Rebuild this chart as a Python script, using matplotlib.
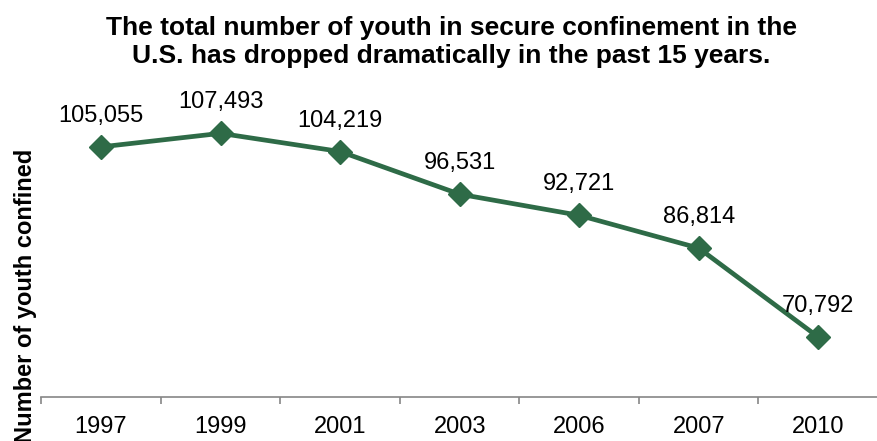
import matplotlib.pyplot as plt
from matplotlib.ticker import FixedLocator, NullFormatter

plt.rcParams['font.family'] = ['Liberation Sans', 'DejaVu Sans']

years = ['1997', '1999', '2001', '2003', '2006', '2007', '2010']
confined = [105055, 107493, 104219, 96531, 92721, 86814, 70792]

fig = plt.figure(figsize=(8.78, 4.41), dpi=100)
ax = fig.add_axes([0.047, 0.10, 0.953, 0.755])

x = list(range(len(years)))
ax.plot(x, confined, color='#2e6b47', linewidth=3.4, marker='D', markersize=12,
        solid_joinstyle='round', clip_on=False)

# value labels above each point
for xi, v in zip(x, confined):
    ax.annotate(f'{v:,}', (xi, v), xytext=(0, 18), textcoords='offset points',
                ha='center', va='baseline', fontsize=17)

ax.set_xlim(-0.5, len(years) - 0.5)
ax.set_ylim(60000, 120000)
ax.set_xticks(x)
ax.set_xticklabels(years, fontsize=17)
ax.tick_params(axis='x', which='major', length=0, pad=13.5)
ax.xaxis.set_minor_locator(FixedLocator([i - 0.5 for i in range(len(years) + 1)]))
ax.xaxis.set_minor_formatter(NullFormatter())
ax.tick_params(axis='x', which='minor', length=5, color='#868686', width=1.2)
ax.set_yticks([])

for side in ['top', 'right', 'left']:
    ax.spines[side].set_visible(False)
ax.spines['bottom'].set_color('#868686')
ax.spines['bottom'].set_linewidth(1.2)

fig.text(0.0296, 0.33, 'Number of youth confined', rotation=90, fontsize=17,
         fontweight='bold', ha='center', va='center')
fig.text(0.514, 1 - 35 / 441, 'The total number of youth in secure confinement in the',
         ha='center', va='baseline', fontsize=19, fontweight='bold')
fig.text(0.514, 1 - 63 / 441, 'U.S. has dropped dramatically in the past 15 years.',
         ha='center', va='baseline', fontsize=19, fontweight='bold')

fig.savefig('out.png', dpi=100)
